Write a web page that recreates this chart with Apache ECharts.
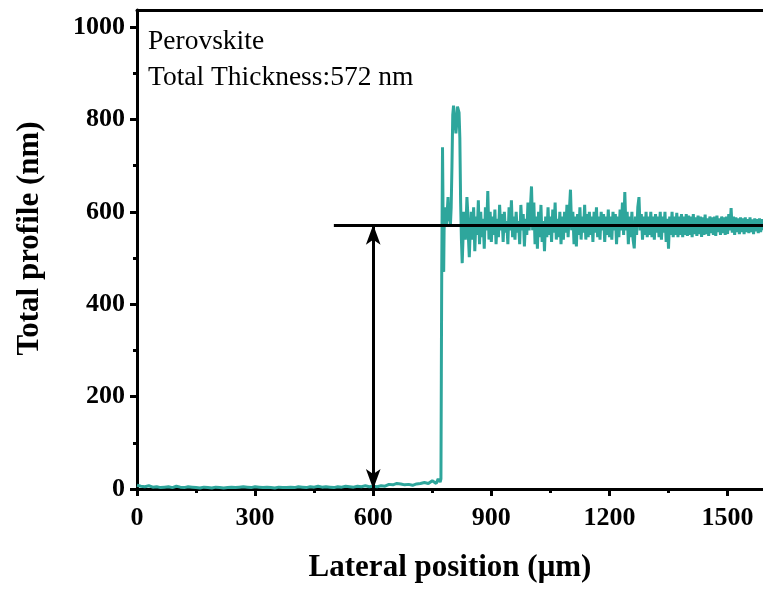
<!DOCTYPE html>
<html>
<head>
<meta charset="utf-8">
<script src="https://cdn.jsdelivr.net/npm/echarts@6/dist/echarts.min.js"></script>
<style>html,body{margin:0;padding:0;background:#fff}#c{width:763px;height:590px}</style>
</head>
<body>
<div id="c"></div>
<script>
// ---- data ----
var xMajorTicks = [0, 300, 600, 900, 1200, 1500];
var xMinorTicks = [150, 450, 750, 1050, 1350];
var yMajorTicks = [0, 200, 400, 600, 800, 1000];
var yMinorTicks = [100, 300, 500, 700, 900];
var thickness = 572;
var lineStartX = 500;
var arrowX = 600;
var labelSample = 'Perovskite';
var labelThickness = 'Total Thickness:572 nm';

// lateral position (µm), height (nm)
var baseline = [
[0,8],[10,6],[20,5],[30,7],[40,4],[50,5],[60,3],[70,4],[80,5],[90,3],[100,6],[110,4],[120,3],[130,5],[140,4],[150,3],[160,2],[170,4],[180,3],[190,2],[200,4],[210,3],[220,2],[230,3],[240,4],[250,3],[260,4],[270,5],[280,4],[290,3],[300,5],[310,4],[320,3],[330,4],[340,3],[350,2],[360,4],[370,3],[380,3],[390,4],[400,3],[410,5],[420,4],[430,3],[440,5],[450,4],[460,6],[470,4],[480,5],[490,4],[500,3],[510,5],[520,4],[530,6],[540,5],[550,4],[560,6],[570,5],[580,7],[590,5],[600,6],[610,5],[620,7],[630,6],[640,10],[650,9],[660,12],[670,11],[680,9],[690,10],[700,8],[710,11],[720,12],[730,14],[740,12],[750,18],[760,12],[765,22],[770,15]
];
var stepEdge = [
[772,22],[773,250],[774,470],[775,600],[776,740],[777,640],[778,480],[779,470],[780,560],[782,610],[784,590],[786,570],[788,600],[790,632],[792,580],[794,600],[796,570],[798,610],[800,700],[802,810],[804,830],[806,826],[808,790],[810,770],[812,790],[814,828],[816,830],[818,815],[820,760],[822,620],[824,540],[826,489],[828,540],[830,600],[832,570],[834,540],[836,580],[838,632],[840,600],[842,540],[844,502],[846,550]
];
var film = [
[849,600],[852,540],[855,610],[858,515],[861,590],[864,550],[867,625],[870,530],[873,600],[876,545],[879,585],[882,520],[885,610],[888,560],[891,645],[894,540],[897,600],
[900,535],[903,590],[906,550],[909,605],[912,530],[915,585],[918,545],[921,615],[924,560],[927,595],[930,535],[933,600],[936,555],[939,580],[942,530],[945,610],[948,560],[951,625],[954,545],[957,590],[960,540],[963,600],[966,555],[969,580],[972,530],[975,615],[978,560],[981,595],[984,525],[987,585],[990,550],[993,620],[996,560],
[999,605],[1002,655],[1005,560],[1008,620],[1011,530],[1014,590],[1017,520],[1020,600],[1023,545],[1026,615],[1029,535],[1032,580],[1035,515],[1038,590],
[1041,545],[1044,610],[1047,550],[1050,590],[1053,535],[1056,605],[1059,555],[1062,620],[1065,540],[1068,585],[1071,545],[1074,600],[1077,530],[1080,590],[1083,540],[1086,600],[1089,555],[1092,615],[1095,545],[1098,600],
[1101,648],[1104,560],[1107,600],[1110,530],[1113,590],[1116,525],[1119,595],
[1122,550],[1125,610],[1128,540],[1131,590],[1134,555],[1137,615],[1140,540],[1143,595],[1146,545],[1149,600],[1152,550],[1155,590],[1158,535],[1161,600],[1164,555],[1167,610],[1170,545],[1173,590],[1176,540],[1179,600],[1182,560],[1185,595],[1188,535],[1191,590],[1194,550],[1197,605],[1200,545],[1203,590],[1206,540],[1209,600],[1212,560],[1215,595],[1218,530],[1221,590],[1224,545],[1227,605],[1230,560],[1233,620],[1236,550],[1239,643],
[1242,560],[1245,600],[1248,530],[1251,590],[1254,545],[1257,600],[1260,540],[1263,521],[1266,590],[1269,550],[1272,610],[1275,632],[1278,560],[1281,595],[1284,540],[1287,590],[1290,550],[1293,600],[1296,545],[1299,590],
[1302,550],[1305,600],[1308,545],[1311,590],[1314,540],[1317,595],[1320,555],[1323,590],[1326,545],[1329,600],[1332,540],[1335,590],[1338,555],[1341,600],[1344,535],[1347,585],[1350,520],[1353,590],[1356,550],[1359,600],[1362,545],[1365,590],[1368,550],[1371,598],[1374,545],[1377,590],[1380,550],[1383,595],[1386,545],[1389,590],[1392,550],[1395,595],[1398,548],
[1401,592],[1404,550],[1407,590],[1410,545],[1413,595],[1416,552],[1419,588],[1422,548],[1425,592],[1428,552],[1431,590],[1434,546],[1437,588],[1440,550],[1443,594],[1446,552],[1449,586],[1452,548],[1455,590],[1458,554],[1461,588],[1464,550],[1467,590],[1470,548],[1473,592],[1476,556],[1479,586],[1482,550],[1485,590],[1488,554],[1491,588],[1494,550],[1497,590],
[1500,552],[1503,595],[1506,560],[1509,608],[1512,555],[1515,590],[1518,550],[1521,588],[1524,556],[1527,586],[1530,552],[1533,588],[1536,556],[1539,586],[1542,552],[1545,588],[1548,556],[1551,584],[1554,554],[1557,588],[1560,556],[1563,584],[1566,552],[1569,586],[1572,558],[1575,584],[1578,554],[1581,586],[1584,556],[1587,584],[1590,560]
];
var profile = baseline.concat(stepEdge, film);

// ---- chart ----
var FONT = '"Liberation Serif","Times New Roman",serif';
var XMAX = 1590, YMAX = 1037;
var chart = echarts.init(document.getElementById('c'), null, {renderer: 'canvas'});
var axisLineStyle = {color: '#000', width: 3};
var labelStyle = {fontFamily: FONT, fontSize: 26, fontWeight: 'bold', color: '#000', formatter: function (v) { return String(v); }};

chart.setOption({
  animation: false,
  backgroundColor: '#fff',
  grid: {left: 137, right: 0, top: 10, bottom: 101, containLabel: false},
  xAxis: [
    {
      type: 'value', min: 0, max: XMAX, position: 'bottom',
      axisLine: {show: true, onZero: false, lineStyle: axisLineStyle},
      axisTick: {show: true, customValues: xMajorTicks, length: 7, lineStyle: {color: '#000', width: 3}},
      axisLabel: Object.assign({customValues: xMajorTicks, margin: 16}, labelStyle),
      splitLine: {show: false},
      name: 'Lateral position (\u03bcm)', nameLocation: 'middle', nameGap: 63,
      nameTextStyle: {fontFamily: FONT, fontSize: 31, fontWeight: 'bold', color: '#000'}
    },
    {
      type: 'value', min: 0, max: XMAX, position: 'bottom',
      axisLine: {show: false},
      axisTick: {show: true, customValues: xMinorTicks, length: 4, lineStyle: {color: '#000', width: 3}},
      axisLabel: {show: false}, splitLine: {show: false}
    },
    {
      type: 'value', min: 0, max: XMAX, position: 'top',
      axisLine: {show: true, onZero: false, lineStyle: axisLineStyle},
      axisTick: {show: false}, axisLabel: {show: false}, splitLine: {show: false}
    }
  ],
  yAxis: [
    {
      type: 'value', min: 0, max: YMAX, position: 'left',
      axisLine: {show: true, onZero: false, lineStyle: axisLineStyle},
      axisTick: {show: true, customValues: yMajorTicks, length: 7, lineStyle: {color: '#000', width: 3}},
      axisLabel: Object.assign({customValues: yMajorTicks, margin: 12}, labelStyle),
      splitLine: {show: false},
      name: 'Total profile (nm)', nameLocation: 'middle', nameGap: 92,
      nameTextStyle: {fontFamily: FONT, fontSize: 31, fontWeight: 'bold', color: '#000', padding: [0, 0, 0, 22]}
    },
    {
      type: 'value', min: 0, max: YMAX, position: 'left',
      axisLine: {show: false},
      axisTick: {show: true, customValues: yMinorTicks, length: 4, lineStyle: {color: '#000', width: 3}},
      axisLabel: {show: false}, splitLine: {show: false}
    }
  ],
  graphic: [
    {type: 'text', left: 148, top: 28, style: {text: labelSample, font: '27.5px ' + FONT, fill: '#000'}},
    {type: 'text', left: 148, top: 64, style: {text: labelThickness, font: '27.5px ' + FONT, fill: '#000'}}
  ],
  series: [
    {
      type: 'line', xAxisIndex: 0, yAxisIndex: 0,
      data: profile, showSymbol: false, symbol: 'none', sampling: false,
      lineStyle: {color: '#2ea69c', width: 3},
      z: 2
    },
    {
      type: 'line', xAxisIndex: 0, yAxisIndex: 0, data: [], z: 5,
      markLine: {
        silent: true, animation: false, label: {show: false},
        data: [
          [{coord: [lineStartX, thickness], symbol: 'none'}, {coord: [XMAX, thickness], symbol: 'none'}],
          [{coord: [arrowX, thickness], symbol: 'arrow'}, {coord: [arrowX, 0], symbol: 'arrow'}]
        ],
        symbolSize: [11, 20],
        lineStyle: {color: '#000', width: 3, type: 'solid'}
      }
    }
  ]
});
</script>
</body>
</html>
